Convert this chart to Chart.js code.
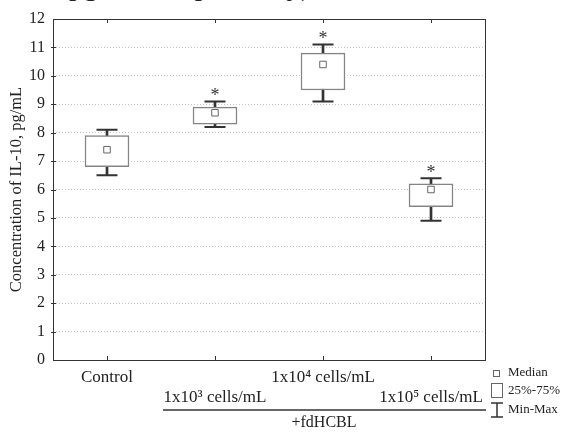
<!DOCTYPE html>
<html>
<head>
<meta charset="utf-8">
<script src="https://cdn.jsdelivr.net/npm/chart.js"></script>
<style>
html, body { margin: 0; padding: 0; background: #fff; }
#wrap { position: relative; width: 566px; height: 432px; overflow: hidden; }
#cut { position: absolute; left: 69px; top: -29px; font: 29px/29px "Liberation Serif"; color: #222; white-space: nowrap; }
canvas { position: absolute; left: 0; top: 0; }
</style>
</head>
<body>
<div id="wrap">
  <div id="cut">pg/mL, respectively)</div>
  <canvas id="graf" width="566" height="432"></canvas>
</div>
<script>
// tick labels are split in two rows like in the figure
const tickRows = [['Control'], ['', '1x10³ cells/mL'], ['1x10⁴ cells/mL'], ['', '1x10⁵ cells/mL']];
const mins = [6.5, 8.2, 9.1, 4.9];
const q1 = [6.8, 8.3, 9.5, 5.4];
const medians = [7.4, 8.7, 10.4, 6.0];
const q3 = [7.9, 8.9, 10.8, 6.2];
const maxs = [8.1, 9.1, 11.1, 6.4];
const starred = [false, true, true, true];
const groupLabel = '+fdHCBL';
const legendItems = ['Median', '25%-75%', 'Min-Max'];

const serif = 'Liberation Serif';
const ink = '#222';

const extras = {
  id: 'extras',
  beforeDatasetsDraw(chart) {
    const {ctx, chartArea: a, scales: {x, y}} = chart;
    ctx.save();
    ctx.strokeStyle = '#333';
    ctx.lineWidth = 1;
    ctx.strokeRect(a.left + 0.5, a.top + 0.5, a.right - a.left, a.bottom - a.top);
    ctx.beginPath();
    q1.forEach((v, i) => {
      const px = Math.round(x.getPixelForValue(i)) + 0.5;
      ctx.moveTo(px, a.top); ctx.lineTo(px, a.top + 4);
      ctx.moveTo(px, a.bottom); ctx.lineTo(px, a.bottom - 4);
    });
    for (let v = 1; v < 12; v++) {
      const py = Math.round(y.getPixelForValue(v)) + 0.5;
      ctx.moveTo(a.left - 2, py); ctx.lineTo(a.left + 3, py);
    }
    ctx.stroke();
    ctx.restore();
  },
  afterDraw(chart) {
    const {ctx, chartArea: a, scales: {x, y}} = chart;
    ctx.save();
    // asterisks
    ctx.fillStyle = '#333';
    ctx.font = '18px "' + serif + '"';
    ctx.textAlign = 'center';
    ctx.textBaseline = 'alphabetic';
    starred.forEach((s, i) => {
      if (!s) return;
      ctx.fillText('*', x.getPixelForValue(i), y.getPixelForValue(maxs[i]) - 0.5);
    });
    // +fdHCBL bracket
    const x0 = x.getPixelForValue(1) - 52;
    ctx.strokeStyle = '#333';
    ctx.lineWidth = 1.5;
    ctx.beginPath();
    ctx.moveTo(x0, 410); ctx.lineTo(a.right + 1, 410);
    ctx.stroke();
    ctx.fillStyle = ink;
    ctx.font = '16px "' + serif + '"';
    ctx.textBaseline = 'middle';
    ctx.fillText(groupLabel, (x0 + a.right) / 2, 423);
    // legend
    ctx.strokeStyle = '#666';
    ctx.lineWidth = 1;
    ctx.strokeRect(493.5, 370.5, 6, 6);
    ctx.strokeRect(491.5, 383.5, 11, 14);
    ctx.strokeStyle = '#333';
    ctx.lineWidth = 1.5;
    ctx.beginPath();
    ctx.moveTo(491, 403); ctx.lineTo(503, 403);
    ctx.moveTo(497, 403); ctx.lineTo(497, 417);
    ctx.moveTo(491, 417); ctx.lineTo(503, 417);
    ctx.stroke();
    ctx.fillStyle = ink;
    ctx.font = '13px "' + serif + '"';
    ctx.textAlign = 'left';
    [373, 391, 410].forEach((ty, i) => ctx.fillText(legendItems[i], 508, ty));
    ctx.restore();
  }
};

new Chart('graf', {
  type: 'bar',
  data: {
    labels: tickRows,
    datasets: [
      {
        type: 'line',
        data: medians,
        showLine: false,
        pointStyle: 'rect',
        pointRadius: 4.6,
        pointBackgroundColor: '#fff',
        pointBorderColor: '#666',
        pointBorderWidth: 1,
        order: 0
      },
      {
        data: q1.map((v, i) => [v, q3[i]]),
        backgroundColor: '#fff',
        borderColor: '#858585',
        borderWidth: 1.5,
        borderSkipped: false,
        barThickness: 44,
        grouped: false,
        order: 1
      },
      {
        data: mins.map((v, i) => [v, maxs[i]]),
        backgroundColor: '#333',
        barThickness: 2,
        grouped: false,
        order: 2
      },
      {
        type: 'line',
        data: maxs,
        showLine: false,
        pointStyle: 'line',
        pointRadius: 10.5,
        pointBorderColor: '#333',
        pointBorderWidth: 2,
        order: 2
      },
      {
        type: 'line',
        data: mins,
        showLine: false,
        pointStyle: 'line',
        pointRadius: 10.5,
        pointBorderColor: '#333',
        pointBorderWidth: 2,
        order: 2
      }
    ]
  },
  options: {
    responsive: false,
    animation: false,
    layout: { padding: { left: 0, right: 81, top: 19, bottom: 0 } },
    plugins: { legend: { display: false }, tooltip: { enabled: false } },
    scales: {
      x: {
        grid: { display: false, drawTicks: false },
        border: { display: false },
        ticks: {
          font: { family: serif, size: 17, lineHeight: 1.15 },
          color: ink,
          padding: 8,
          maxRotation: 0,
          autoSkip: false
        },
        afterFit(s) { s.height = 72; }
      },
      y: {
        min: 0,
        max: 12,
        ticks: { stepSize: 1, font: { family: serif, size: 16 }, color: ink, padding: 8 },
        grid: {
          color: c => (c.tick.value === 0 || c.tick.value === 12) ? 'rgba(0,0,0,0)' : '#c4c4c4',
          lineWidth: 1,
          drawTicks: false
        },
        border: { display: false, dash: [1, 2] },
        title: {
          display: true,
          text: 'Concentration of IL-10, pg/mL',
          font: { family: serif, size: 16.5 },
          color: ink,
          padding: { top: 7, bottom: 0 }
        },
        afterFit(s) { s.width = 53; }
      }
    }
  },
  plugins: [extras]
});
</script>
</body>
</html>
